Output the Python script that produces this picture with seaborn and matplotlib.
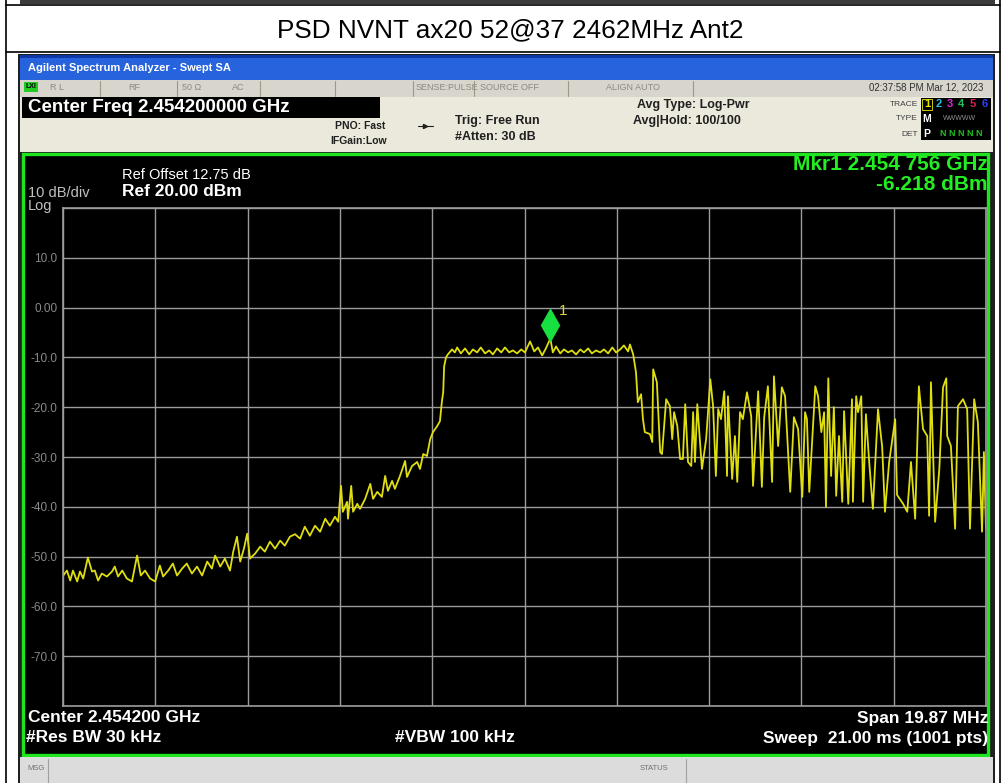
import numpy as np
import pandas as pd
import seaborn as sns
import matplotlib.pyplot as plt
from matplotlib.patches import Rectangle
from matplotlib.transforms import offset_copy

# analyzer settings
center_mhz = 2454.2
span_mhz = 19.87
ref_level = 20.0
db_per_div = 10
mkr_freq = 2454.756
mkr_level = -6.218

# trace (MHz, dBm)
freq_mhz = [
    2444.27, 2444.35, 2444.42, 2444.48, 2444.57, 2444.63, 2444.70, 2444.80, 2444.89, 2444.95,
    2445.02, 2445.10, 2445.21, 2445.32, 2445.38, 2445.45, 2445.54, 2445.64, 2445.75, 2445.86,
    2445.94, 2446.03, 2446.14, 2446.25, 2446.35, 2446.42, 2446.53, 2446.63, 2446.72, 2446.83,
    2446.93, 2447.04, 2447.15, 2447.26, 2447.37, 2447.47, 2447.54, 2447.65, 2447.75, 2447.86,
    2447.93, 2448.01, 2448.08, 2448.16, 2448.23, 2448.29, 2448.40, 2448.51, 2448.61, 2448.72,
    2448.83, 2448.94, 2449.04, 2449.15, 2449.26, 2449.37, 2449.47, 2449.58, 2449.69, 2449.80,
    2449.91, 2450.01, 2450.12, 2450.19, 2450.25, 2450.29, 2450.38, 2450.40, 2450.47, 2450.51,
    2450.60, 2450.66, 2450.77, 2450.88, 2450.94, 2451.03, 2451.13, 2451.20, 2451.26, 2451.35,
    2451.41, 2451.52, 2451.63, 2451.67, 2451.78, 2451.89, 2451.95, 2452.02, 2452.10, 2452.17,
    2452.23, 2452.32, 2452.38, 2452.42, 2452.45, 2452.47, 2452.51, 2452.55, 2452.64, 2452.70,
    2452.75, 2452.83, 2452.92, 2453.01, 2453.09, 2453.18, 2453.26, 2453.35, 2453.44, 2453.52,
    2453.61, 2453.70, 2453.78, 2453.87, 2453.95, 2454.04, 2454.13, 2454.21, 2454.32, 2454.41,
    2454.49, 2454.58, 2454.66, 2454.756, 2454.81, 2454.88, 2454.97, 2455.05, 2455.14, 2455.22,
    2455.31, 2455.40, 2455.48, 2455.57, 2455.65, 2455.74, 2455.83, 2455.91, 2456.00, 2456.09,
    2456.17, 2456.26, 2456.34, 2456.43, 2456.47, 2456.54, 2456.60, 2456.64, 2456.71, 2456.75,
    2456.79, 2456.90, 2456.95, 2456.97, 2457.05, 2457.12, 2457.16, 2457.25, 2457.33, 2457.38,
    2457.42, 2457.49, 2457.55, 2457.61, 2457.66, 2457.72, 2457.79, 2457.83, 2457.87, 2457.92,
    2458.02, 2458.11, 2458.20, 2458.26, 2458.32, 2458.37, 2458.43, 2458.50, 2458.56, 2458.58,
    2458.67, 2458.73, 2458.78, 2458.84, 2458.90, 2458.99, 2459.08, 2459.12, 2459.23, 2459.31,
    2459.36, 2459.44, 2459.53, 2459.57, 2459.66, 2459.74, 2459.81, 2459.92, 2460.00, 2460.09,
    2460.18, 2460.24, 2460.28, 2460.33, 2460.46, 2460.52, 2460.59, 2460.65, 2460.69, 2460.74,
    2460.80, 2460.86, 2460.91, 2460.97, 2461.04, 2461.08, 2461.17, 2461.25, 2461.27, 2461.34,
    2461.38, 2461.45, 2461.49, 2461.55, 2461.62, 2461.70, 2461.81, 2461.90, 2461.96, 2462.05,
    2462.18, 2462.22, 2462.35, 2462.44, 2462.52, 2462.61, 2462.69, 2462.78, 2462.87, 2462.91,
    2462.95, 2463.04, 2463.13, 2463.21, 2463.28, 2463.30, 2463.38, 2463.47, 2463.53, 2463.64,
    2463.73, 2463.79, 2463.88, 2463.96, 2464.05, 2464.09, 2464.135,
]
level_dbm = [
    -53.8, -52.8, -54.8, -52.8, -55.0, -53.0, -54.4, -50.2, -53.0, -52.8,
    -54.8, -53.4, -54.0, -53.0, -52.0, -54.0, -52.8, -54.4, -55.0, -49.8,
    -53.8, -52.8, -54.4, -55.0, -51.8, -54.0, -52.8, -51.4, -53.8, -52.4,
    -51.4, -53.4, -52.0, -53.8, -51.0, -52.4, -49.8, -52.0, -50.4, -52.8,
    -49.0, -46.0, -51.0, -48.4, -45.4, -50.4, -49.4, -48.0, -49.0, -47.0,
    -48.4, -46.8, -47.8, -46.0, -45.5, -46.4, -44.0, -45.8, -43.8, -45.0,
    -42.4, -43.8, -42.0, -43.0, -35.8, -41.0, -39.0, -42.4, -35.8, -41.0,
    -39.4, -40.4, -38.4, -35.4, -38.4, -37.0, -38.0, -33.8, -36.8, -34.8,
    -36.4, -33.8, -30.8, -34.0, -31.8, -31.0, -32.4, -29.4, -29.8, -26.4,
    -25.0, -23.8, -22.8, -19.0, -17.0, -11.8, -10.0, -9.4, -8.4, -9.0,
    -8.0, -9.2, -8.2, -9.4, -8.4, -9.0, -8.0, -9.2, -8.6, -9.4,
    -8.2, -9.0, -8.0, -9.0, -8.6, -9.2, -8.4, -9.0, -6.8, -8.8,
    -8.0, -9.6, -8.2, -6.218, -9.0, -7.8, -9.2, -8.4, -9.0, -8.6,
    -9.4, -8.4, -9.0, -8.2, -9.2, -8.6, -9.0, -8.4, -9.2, -8.0,
    -9.0, -8.4, -7.6, -8.8, -7.4, -9.4, -13.0, -19.0, -17.4, -22.4,
    -25.0, -25.4, -27.0, -12.4, -15.0, -29.0, -29.4, -18.4, -19.8, -26.4,
    -21.0, -23.8, -30.4, -30.4, -19.4, -31.0, -31.8, -21.0, -31.0, -19.4,
    -32.4, -26.4, -14.4, -19.8, -33.8, -20.4, -22.4, -16.8, -33.8, -17.8,
    -34.4, -25.8, -35.0, -21.0, -22.4, -17.0, -21.8, -35.8, -16.8, -36.0,
    -22.0, -15.8, -35.0, -13.8, -27.8, -16.0, -17.8, -37.0, -22.0, -24.4,
    -38.0, -21.0, -22.4, -37.0, -15.8, -17.8, -25.0, -21.0, -40.0, -14.2,
    -33.8, -20.0, -37.8, -25.8, -39.0, -20.8, -39.4, -18.4, -39.0, -17.8,
    -21.0, -17.8, -39.0, -21.4, -31.0, -40.4, -20.4, -28.0, -41.0, -31.0,
    -22.4, -37.6, -39.4, -41.0, -31.0, -42.4, -15.8, -24.4, -25.8, -41.8,
    -15.0, -43.0, -32.4, -16.0, -14.2, -25.8, -27.8, -44.4, -19.8, -18.4,
    -20.4, -44.4, -18.4, -23.0, -45.0, -29.0, -44.4,
]
ytick_labels = ["", "-70.0", "-60.0", "-50.0", "-40.0", "-30.0", "-20.0", "-10.0", "0.00", "10.0", ""]

sns.set_style("dark")
plt.rcParams["font.family"] = ["Liberation Sans", "DejaVu Sans"]
narrow = ["Liberation Sans Narrow", "Liberation Sans", "DejaVu Sans"]

fig = plt.figure(figsize=(10.04, 7.83), dpi=100)
fig.patch.set_facecolor("white")

# background layer in pixel units for the instrument screen
bg = fig.add_axes([0, 0, 1, 1])
bg.set_xlim(0, 1004)
bg.set_ylim(783, 0)
bg.axis("off")

bg.add_patch(Rectangle((20, 0), 975, 4, fc="#3c3c3c", ec="none"))
for yy in (5, 52):
    bg.plot([6, 1000], [yy, yy], color="black", lw=1.2)
for xx in (6, 1000):
    bg.plot([xx, xx], [0, 783], color="black", lw=1.2)

bg.text(510, 30, "PSD NVNT ax20 52@37 2462MHz Ant2", ha="center", va="center",
        fontsize=18.8, color="black")

# screen frame
bg.add_patch(Rectangle((18, 54), 977, 729, fc="#202020", ec="none"))
bg.add_patch(Rectangle((20, 55), 973, 25, fc="#2763dc", ec="none"))
bg.add_patch(Rectangle((20, 55), 973, 3, fc="#0d3aa6", ec="none"))
bg.text(28, 68, "Agilent Spectrum Analyzer - Swept SA", ha="left", va="center",
        fontsize=8, color="white", fontweight="bold", family=narrow)

# status row
bg.add_patch(Rectangle((20, 80), 973, 17, fc="#d8d6cc", ec="none"))
for xx in (100, 177, 260, 335, 413, 474, 568, 693):
    bg.plot([xx, xx], [81, 96], color="#9a988c", lw=0.8)
bg.add_patch(Rectangle((24, 82), 14, 10, fc="#22cc22", ec="none"))
bg.text(31, 87, "LXI", ha="center", va="center", fontsize=5, color="black", fontweight="bold")
status_items = [(50, "R L"), (128, "RF"), (182, "50 \u03a9"), (232, "AC"),
                (416, "SENSE:PULSE"), (480, "SOURCE OFF"), (606, "ALIGN AUTO")]
for xx, s in status_items:
    bg.text(xx, 88, s, ha="left", va="center", fontsize=6.5, color="#8c8a80", family=narrow)
bg.text(983, 88, "02:37:58 PM Mar 12, 2023", ha="right", va="center", fontsize=7,
        color="#303030", family=narrow)

# settings area
bg.add_patch(Rectangle((20, 97), 973, 55, fc="#ebe8dc", ec="none"))
bg.add_patch(Rectangle((22, 97), 358, 21, fc="black", ec="none"))
bg.text(28, 108, "Center Freq 2.454200000 GHz", ha="left", va="center", fontsize=13.5,
        color="white", fontweight="bold")
bg.text(335, 126, "PNO: Fast", ha="left", va="center", fontsize=7.5, fontweight="bold",
        color="#202020", family=narrow)
bg.text(330, 141, "IFGain:Low", ha="left", va="center", fontsize=7.5, fontweight="bold",
        color="#202020", family=narrow)
bg.plot([418, 433], [126, 126], color="#202020", lw=0.8)
bg.plot([425.5], [126], marker=">", ms=3, color="#202020")
bg.text(455, 121, "Trig: Free Run", ha="left", va="center", fontsize=9, fontweight="bold",
        color="#202020")
bg.text(455, 137, "#Atten: 30 dB", ha="left", va="center", fontsize=9, fontweight="bold",
        color="#202020")
bg.text(637, 105, "Avg Type: Log-Pwr", ha="left", va="center", fontsize=9, fontweight="bold",
        color="#202020")
bg.text(633, 121, "Avg|Hold: 100/100", ha="left", va="center", fontsize=9, fontweight="bold",
        color="#202020")

# trace legend block
bg.add_patch(Rectangle((921, 98), 70, 42, fc="black", ec="none"))
for yy, s in ((104, "TRACE"), (119, "TYPE"), (134, "DET")):
    bg.text(918, yy, s, ha="right", va="center", fontsize=6, color="#404040", family=narrow)
trace_cols = ["#e8e800", "#20c0e0", "#e020e0", "#20c060", "#e02050", "#3040ff"]
for i, c in enumerate(trace_cols):
    bg.text(927 + i * 11.5, 104, str(i + 1), ha="center", va="center", fontsize=8,
            fontweight="bold", color=c)
bg.add_patch(Rectangle((922, 98.5), 10, 11, fc="none", ec="#e8e800", lw=0.6))
bg.text(927, 119, "M", ha="center", va="center", fontsize=7.5, fontweight="bold", color="white")
bg.text(960, 119, "WWWWW", ha="center", va="center", fontsize=5, color="#909090")
bg.text(927, 134, "P", ha="center", va="center", fontsize=7.5, fontweight="bold", color="white")
bg.text(961, 134, "N N N N N", ha="center", va="center", fontsize=6.5, fontweight="bold",
        color="#20c020")

# measurement display
bg.add_patch(Rectangle((23.5, 153.5), 965, 601, fc="black", ec="#1ee61e", lw=2.4))
bg.text(122, 175, "Ref Offset 12.75 dB", ha="left", va="center", fontsize=10.5, color="white")
bg.text(122, 192, "Ref 20.00 dBm", ha="left", va="center", fontsize=12.5, color="white",
        fontweight="bold")
bg.text(28, 193, "10 dB/div", ha="left", va="center", fontsize=10.5, color="#c0c0c0")
bg.text(28, 206, "Log", ha="left", va="center", fontsize=10.5, color="#c0c0c0")

mf = f"{mkr_freq / 1000:.6f}"
bg.text(988, 164, f"Mkr1 {mf[:5]} {mf[5:]} GHz", ha="right", va="center", fontsize=15,
        color="#22ee22", fontweight="bold")
bg.text(988, 185, f"{mkr_level:.3f} dBm", ha="right", va="center", fontsize=15,
        color="#22ee22", fontweight="bold")

bg.text(28, 718, f"Center {center_mhz / 1000:.6f} GHz", ha="left", va="center", fontsize=12.5,
        color="white", fontweight="bold")
bg.text(26, 738, "#Res BW 30 kHz", ha="left", va="center", fontsize=12.5, color="white",
        fontweight="bold")
bg.text(395, 738, "#VBW 100 kHz", ha="left", va="center", fontsize=12.5, color="white",
        fontweight="bold")
bg.text(988, 718, f"Span {span_mhz:.2f} MHz", ha="right", va="center", fontsize=12.5,
        color="white", fontweight="bold")
bg.text(988, 738, "Sweep  21.00 ms (1001 pts)", ha="right", va="center", fontsize=12.5,
        color="white", fontweight="bold")

# message bar
bg.add_patch(Rectangle((20, 757), 973, 26, fc="#dcdcdc", ec="none"))
bg.plot([48, 48], [759, 783], color="#a0a0a0", lw=0.8)
bg.plot([686, 686], [759, 783], color="#a0a0a0", lw=0.8)
bg.text(27, 768, "MSG", ha="left", va="center", fontsize=5.5, color="#707070")
bg.text(640, 768, "STATUS", ha="left", va="center", fontsize=5.5, color="#707070")

# graticule and trace
ax = fig.add_axes([63 / 1004, 77 / 783, 923 / 1004, 498 / 783])
ax.set_zorder(2)
ax.set_facecolor("black")
x0 = center_mhz - span_mhz / 2
x1 = center_mhz + span_mhz / 2
y0 = ref_level - 10 * db_per_div
df = pd.DataFrame({"freq": freq_mhz, "level": level_dbm})
sns.lineplot(data=df, x="freq", y="level", ax=ax, color="#dede10", linewidth=1.3,
             estimator=None, sort=False)
ax.set_xlim(x0, x1)
ax.set_ylim(y0, ref_level)
ax.set_xticks(np.linspace(x0, x1, 11))
ax.set_yticks(np.arange(y0, ref_level + 1, db_per_div))
ax.set_yticklabels(ytick_labels)
ax.grid(True, color="#9c9c9c", linewidth=1.0)
ax.tick_params(length=0, labelbottom=False, labelsize=8.5, labelcolor="#8a8a8a", pad=4)
ax.set_xlabel("")
ax.set_ylabel("")
for sp in ax.spines.values():
    sp.set_color("#9c9c9c")
    sp.set_linewidth(1.2)

# marker 1
mk_tr = offset_copy(ax.transData, fig=fig, x=0, y=14, units="dots")
ax.plot([mkr_freq], [mkr_level], marker="d", ms=16, color="#18e040", transform=mk_tr,
        clip_on=False)
ax.annotate("1", xy=(mkr_freq, mkr_level), xytext=(9, 19.5), textcoords="offset points",
            ha="center", va="center", fontsize=11, color="#d8d840")

fig.savefig("out.png", dpi=100, facecolor="white")
